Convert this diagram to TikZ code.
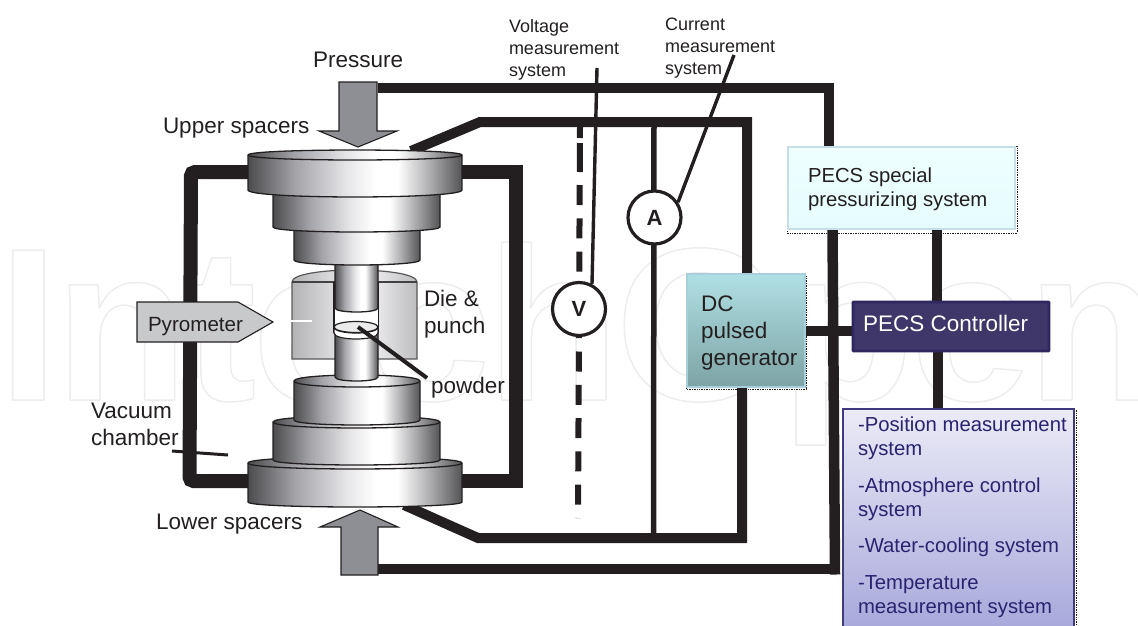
\documentclass[tikz,border=0pt]{standalone}
\usepackage{fontspec}
\setmainfont{Liberation Sans}
\newfontfamily\markfont[LetterSpace=-1.9,BoldFont={Liberation Sans Bold}]{Liberation Sans}
\usetikzlibrary{calc}
\definecolor{ink}{HTML}{231F20}
\definecolor{arrowgray}{HTML}{8E8F94}
\definecolor{navy}{HTML}{3F3769}
\definecolor{navytxt}{HTML}{2A2370}
\pgfdeclarehorizontalshading{cylshade}{100bp}{
  rgb(0bp)=(.30,.30,.31); rgb(25bp)=(.30,.30,.31); rgb(36bp)=(.64,.64,.66); rgb(48bp)=(.90,.90,.91);
  rgb(55bp)=(1,1,1); rgb(60bp)=(1,1,1); rgb(67bp)=(.70,.70,.71); rgb(75bp)=(.33,.33,.34); rgb(100bp)=(.33,.33,.34)}
\pgfdeclarehorizontalshading{dieshade}{100bp}{
  rgb(0bp)=(.70,.70,.71); rgb(25bp)=(.70,.70,.71); rgb(40bp)=(.85,.85,.86); rgb(60bp)=(.90,.90,.91); rgb(75bp)=(.74,.74,.75); rgb(100bp)=(.74,.74,.75)}
\tikzset{
  x=1pt,y=-1pt,
  lbl/.style={inner sep=0pt,outer sep=0pt,anchor=base west,text=ink,align=left,font=\fontsize{22.5}{27}\selectfont},
  smalllbl/.style={lbl,font=\fontsize{18}{21.7}\selectfont},
  wire/.style={draw=ink,line width=10pt,line join=miter},
  frame/.style={draw=ink,line width=14pt,rounded corners=4pt},
  thinwire/.style={draw=ink,line width=3.4pt},
  press/.style={draw=ink,line width=1.1pt,fill=arrowgray,line join=miter},
  meter/.style={circle,draw=ink,line width=3.2pt,fill=white,minimum size=53pt,inner sep=0pt,font=\fontsize{22}{26}\bfseries\selectfont,text=ink},
  boxbase/.style={rectangle,inner sep=0pt,outer sep=0pt,anchor=north west},
  cylbody/.style={draw=ink,line width=1.3pt,shading=cylshade},
}
% x-left, x-right, y-top, y-bottom, top ellipse radius, bottom curve radius
\newcommand{\cylpart}[6]{%
  \path[cylbody] (#1,#3) -- (#1,#4) .. controls (#1,#4+1.33*#6) and (#2,#4+1.33*#6) .. (#2,#4) -- (#2,#3)
     .. controls (#2,#3-1.33*#5) and (#1,#3-1.33*#5) .. cycle;
  \path[draw=ink,line width=1.3pt] (#1,#3) .. controls (#1,#3+1.33*#5) and (#2,#3+1.33*#5) .. (#2,#3);
}
\begin{document}
\begin{tikzpicture}
\useasboundingbox (0,0) rectangle (1138,625);
\clip (0,0) rectangle (1138,625);
% watermark
\node[inner sep=0pt,anchor=base west,font=\markfont\bfseries\fontsize{218}{218}\selectfont] (mark) at (-2,400)
  {\special{pdf:code q 1 Tr 0.93 G 1.5 w 1 j}IntechOpen\special{pdf:code Q}};
% coordinates
\coordinate (pu) at (378,88); \coordinate (pc) at (829,88);
\coordinate (pl) at (378,569); \coordinate (pd) at (835,569);
\coordinate (ca) at (411,151); \coordinate (cb) at (480,122);
\coordinate (cc) at (747,122); \coordinate (cm) at (654,122);
\coordinate (da) at (404,505); \coordinate (db) at (478,538);
\coordinate (dc) at (742,538); \coordinate (dm) at (653.5,538);
\coordinate (fl) at (248,172); \coordinate (flb) at (248,481);
\coordinate (fr) at (462,172); \coordinate (frb) at (462,481);
\coordinate (dashtop) at (580,127); \coordinate (dashbot) at (578,518);
\coordinate (vm) at (597,68); \coordinate (am) at (734,55);
\coordinate (pw1) at (358,327); \coordinate (pw2) at (427,378);
\coordinate (vc1) at (172,451); \coordinate (vc2) at (228,455);
% boxes
\node[boxbase,minimum width=227pt,minimum height=82pt] (special) at (788,147) {};
\node[boxbase,minimum width=118pt,minimum height=113pt] (dcgen) at (687,274) {};
\node[boxbase,minimum width=196pt,minimum height=49pt] (ctrl) at (853,302) {};
\node[boxbase,minimum width=231pt,minimum height=230pt] (sys) at (843,409) {};
% frame loops
\draw[frame] (fl) -- (191,172) -- (189.5,481) -- (flb);
\draw[frame,rounded corners=0pt] (fr) -- (516,172) -- (516,481) -- (frb);
% pressure wires
\draw[wire] (pu) -- (pc) -- (special.north -| pc);
\draw[wire,line width=10.5pt] (special.south -| 832.5,0) -- (835,574.5);
\draw[wire] (pd) -- (pl);
% circuit wires
\draw[wire] (ca) -- (cb) -- (cc) -- (dcgen.north -| cc);
\draw[wire] (da) -- (db) -- (dc) -- (dcgen.south -| dc);
\draw[wire,line width=5.5pt] (cm) -- (dm);
\draw[draw=ink,line width=6pt,dash pattern=on 11pt off 5pt on 29pt off 13pt on 20pt off 13.3pt on 20pt off 13.3pt on 20pt off 13.3pt on 20pt off 13.3pt on 20pt off 13.3pt on 20pt off 13.3pt on 20pt off 13.3pt on 20pt off 13.3pt on 20pt off 13.3pt on 20pt off 13.3pt] (dashtop) -- (dashbot);
% meters
\node[meter] (A) at (654.5,217.5) {A};
\node[meter] (V) at (579,309) {V};
\draw[thinwire] (vm) -- (592,284);
\draw[thinwire] (am) -- (A.33);
% boxes over wires
\draw[wire] (dcgen.east |- 0,331) -- (ctrl.west |- 0,331);
\draw[wire] (special.south -| 937,0) -- (ctrl.north -| 937,0);
\draw[wire,line width=10.5pt] (ctrl.south -| 938,0) -- (sys.north -| 938,0);
\draw[ink,densely dotted,line width=.7pt] (787,146) rectangle (1017,233);
\path[top color={rgb,255:red,239;green,255;blue,255},bottom color={rgb,255:red,229;green,252;blue,254},draw={rgb,255:red,200;green,222;blue,230},line width=1.5pt] (special.north west) rectangle (special.south east);
\draw[ink,densely dotted,line width=.7pt] (686,276) rectangle (806,389);
\path[top color={rgb,255:red,176;green,224;blue,228},bottom color={rgb,255:red,125;green,163;blue,165},draw={rgb,255:red,167;green,207;blue,220},line width=1.5pt] (dcgen.north west) rectangle (dcgen.south east);
\path[fill=navy,draw={rgb,255:red,47;green,40;blue,96},line width=2.8pt,rounded corners=.7pt] (ctrl.north west) rectangle (ctrl.south east);
\draw[ink,densely dotted,line width=.7pt] (842,410) rectangle (1076,640);
\path[top color={rgb,255:red,235;green,235;blue,247},bottom color={rgb,255:red,165;green,165;blue,218},draw={rgb,255:red,63;green,58;blue,128},line width=1.5pt] (sys.north west) rectangle (sys.south east);
% die
\path[draw=ink!75,line width=1.2pt,shading=dieshade] (292,282) .. controls (292,266) and (417,266) .. (417,282) -- (417,359) -- (292,359) -- cycle;
\draw[ink!85,line width=1.2pt] (292,282) -- (335,282) (378,282) -- (417,282);
\path[fill=white,draw=none] (335,295) rectangle (378,333);
\draw[ink,line width=1.3pt] (334,282) -- (334,333) (378.5,282) -- (378.5,333);
% upper spacers (back to front)
\cylpart{335}{378}{250}{308}{0}{4}
\cylpart{294}{420}{225}{260}{0}{5}
\cylpart{273}{440}{190}{227}{0}{5}
\cylpart{248}{462}{155}{190}{5}{7}
% lower spacers
\cylpart{248}{462}{463}{502}{6}{5}
\cylpart{273}{440}{422}{460}{6}{5}
\cylpart{294}{420}{381}{420}{6}{5}
\cylpart{335}{378}{330}{377}{0}{4}
% powder
\path[draw=ink,line width=1.2pt,fill=white] (334,327) .. controls (334,335) and (378,335) .. (378,327) -- (378,333) .. controls (378,341) and (334,341) .. (334,333) -- cycle;
\path[draw=ink,line width=1.2pt,fill=white!92!black] (356,327) ellipse [x radius=22pt,y radius=5.5pt];
\draw[ink,line width=4pt] (pw1) -- (pw2);
\draw[white,line width=2.5pt] (291,321) -- (312,321);
\draw[ink,line width=3pt] (vc1) -- (vc2);
% pressure arrows
\path[press] (339,82) -- (377,82) -- (377,131) -- (397,131) -- (358,147) -- (319,131) -- (339,131) -- cycle;
\path[press] (341,575) -- (341,527) -- (320,527) -- (360,510) -- (398,527) -- (378,527) -- (378,575) -- cycle;
% pyrometer
\path[draw=ink,line width=1.1pt,fill={rgb,255:red,200;green,201;blue,203},line join=miter] (137,302) -- (238,302) -- (273,322) -- (238,342) -- (137,342) -- cycle;
% labels
\node[lbl] (tpressure) at (313,67) {Pressure};
\node[lbl] (tupper) at (163,133) {Upper spacers};
\node[lbl] (tlower) at (156,529) {Lower spacers};
\node[lbl] (tvac) at (91,445) {Vacuum\\chamber};
\node[lbl] (tdie) at (424,333) {Die \&\\punch};
\node[lbl] (tpowder) at (431,393) {powder};
\node[lbl,font=\fontsize{20.6}{24}\selectfont] (tpyro) at (148,331) {Pyrometer};
\node[smalllbl] (tvolt) at (509,76) {Voltage\\measurement\\system};
\node[smalllbl] (tcurr) at (665,74) {Current\\measurement\\system};
\node[lbl] (tdc) at (701,365) {DC\\pulsed\\generator};
\node[lbl,font=\fontsize{20.3}{24}\selectfont] (tspecial) at (808,206) {PECS special\\pressurizing system};
\node[lbl,text=white] (tctrl) at (863,331) {PECS Controller};
\node[lbl,text=navytxt,font=\fontsize{20.3}{24}\selectfont] (tsys) at (858,613)
 {-Position measurement\\system\\[12.5pt]-Atmosphere control\\system\\[12.5pt]-Water-cooling system\\[12.5pt]-Temperature\\measurement system};
\end{tikzpicture}
\end{document}
